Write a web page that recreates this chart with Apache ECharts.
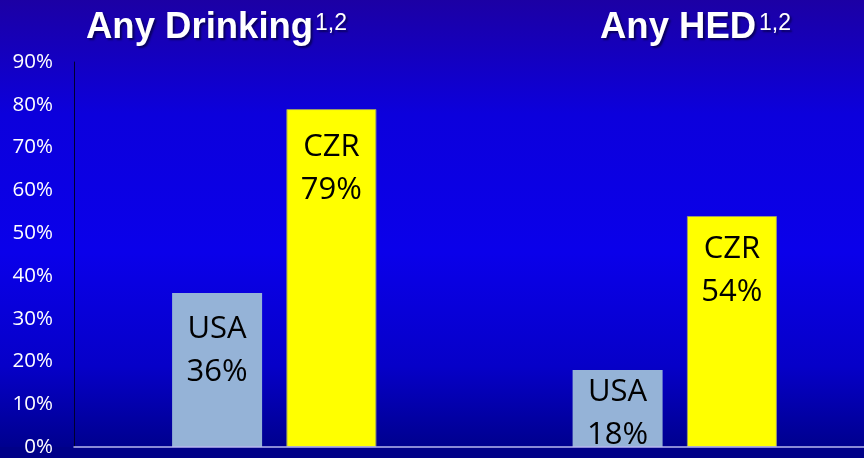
<!DOCTYPE html>
<html>
<head>
<meta charset="utf-8">
<script src="https://cdn.jsdelivr.net/npm/echarts@6/dist/echarts.min.js"></script>
<style>
html,body{margin:0;padding:0;}
#chart{width:864px;height:458px;}
</style>
</head>
<body>
<div id="chart"></div>
<script>
// ---- data ----
var categories = ['Any Drinking', 'Any HED'];
var titleSup = '1,2';
var seriesNames = ['USA', 'CZR'];
var usaValues = [36, 18];
var czrValues = [79, 54];
var yTicks = [0, 10, 20, 30, 40, 50, 60, 70, 80, 90];

// ---- label placement (style, not data) ----
var usaLabelDy = [14.5, 1];
var czrLabelDy = [17, 12];

function buildData(values, dys) {
  return values.map(function (v, i) {
    return { value: v, label: { offset: [0, dys[i]] } };
  });
}

var labelStyle = {
  show: true,
  position: 'insideTop',
  distance: 0,
  formatter: '{a}\n{c}%',
  color: '#000',
  fontFamily: 'Open Sans',
  fontSize: 31,
  lineHeight: 43
};

var shadow = { textShadowColor: 'rgba(0,0,40,0.6)', textShadowOffsetX: 2, textShadowOffsetY: 2, textShadowBlur: 2 };
var mainStyle = Object.assign({ fontFamily: 'Liberation Sans', fontWeight: 'bold', fontSize: 36.5, color: '#fff', lineHeight: 44 }, shadow);
var supStyle = Object.assign({ fontFamily: 'Liberation Sans', fontWeight: 'normal', fontSize: 23, color: '#fff', lineHeight: 23 }, shadow);

var chart = echarts.init(document.getElementById('chart'), null, { renderer: 'canvas' });
var option = {
  animation: false,
  backgroundColor: {
    type: 'linear', x: 0, y: 0, x2: 0, y2: 1,
    colorStops: [
      { offset: 0, color: '#1c00a4' },
      { offset: 0.25, color: '#0c00dc' },
      { offset: 0.55, color: '#0a00ea' },
      { offset: 0.8, color: '#0600c8' },
      { offset: 0.97, color: '#000090' },
      { offset: 1, color: '#000088' }
    ]
  },
  title: [
    { text: categories[0], left: 86, top: 6, padding: 0, textStyle: mainStyle },
    { text: titleSup, left: 315, top: 12, padding: 0, textStyle: supStyle },
    { text: categories[1], left: 600, top: 6, padding: 0, textStyle: mainStyle },
    { text: titleSup, left: 759, top: 12, padding: 0, textStyle: supStyle }
  ],
  graphic: [
    { type: 'rect', z: 50, shape: { x: 0, y: 447, width: 864, height: 11 }, style: { fill: '#000088' }, silent: true }
  ],
  grid: { left: 74, top: 62, width: 801, bottom: 11, containLabel: false, outerBoundsMode: 'none' },
  xAxis: {
    type: 'category',
    data: categories,
    z: 60,
    axisLine: { show: true, lineStyle: { color: '#b8b8f0', width: 1.5 } },
    axisTick: { show: false },
    axisLabel: { show: false },
    splitLine: { show: false }
  },
  yAxis: {
    type: 'value',
    min: yTicks[0],
    max: yTicks[yTicks.length - 1],
    interval: yTicks[1] - yTicks[0],
    z: 60,
    axisLine: { show: true, lineStyle: { color: '#000030', width: 1 } },
    axisTick: { show: false },
    splitLine: { show: false },
    axisLabel: {
      formatter: '{value}%',
      color: '#fff',
      fontFamily: 'Open Sans',
      fontSize: 20.5,
      margin: 21
    }
  },
  series: [
    {
      name: seriesNames[0],
      type: 'bar',
      barWidth: 90,
      barGap: '27%',
      itemStyle: { color: '#95b3d7' },
      label: labelStyle,
      data: buildData(usaValues, usaLabelDy)
    },
    {
      name: seriesNames[1],
      type: 'bar',
      barWidth: 90,
      barGap: '27%',
      itemStyle: { color: '#ffff00', borderColor: '#9a9a6a', borderWidth: 1 },
      label: labelStyle,
      data: buildData(czrValues, czrLabelDy)
    }
  ]
};
chart.setOption(option);
</script>
</body>
</html>
